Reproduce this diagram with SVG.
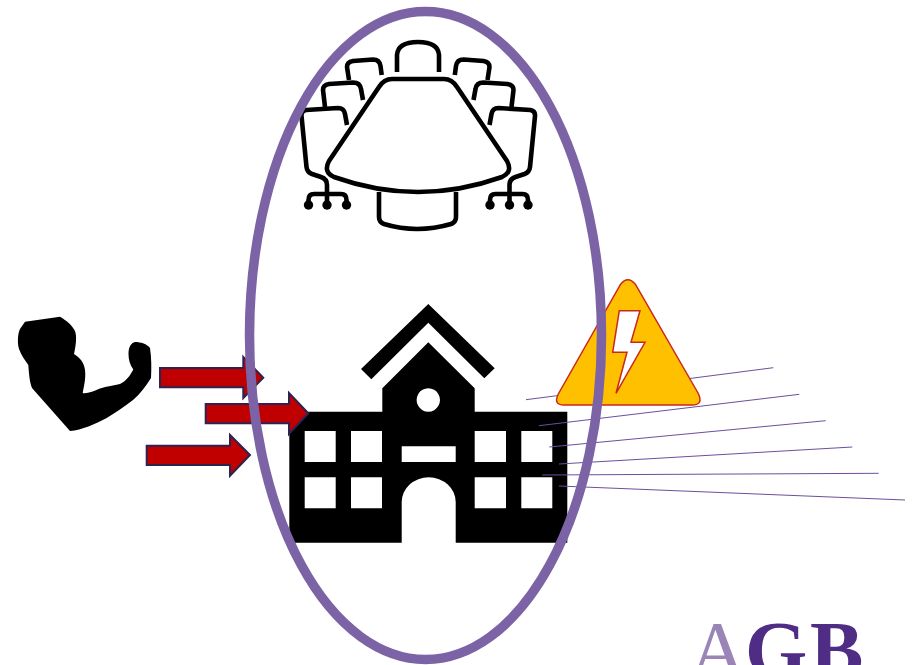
<svg xmlns="http://www.w3.org/2000/svg" width="915" height="665" viewBox="0 0 915 665">
<style>
.o{fill:none;stroke:#000;stroke-width:4.600;stroke-linecap:butt;stroke-linejoin:round}
.a{fill:#c00000;stroke:#2e2350;stroke-width:2}
.l{stroke:#6b4f9e;stroke-width:1;fill:none}
.k{fill:#000}
</style>
<defs>
<g id="side">
<path class="o" d="M381.700 75 L380.500 66 Q379.500 59.500 373 59.500 L353 61 Q347 62 347 67 L349 80"/>
<path class="o" d="M363 100 L361 89 Q360 82.500 353 82.500 L329 84 Q323 85 323 90 L325 107"/>
<path class="o" d="M347 125 L345 114 Q344 108 338 108 L306 110 Q301 111 301.500 116 L306.500 167 Q307 172 312 174 L321 177 Q327 179 327 185 V205"/>
<path class="o" d="M308.500 205 V200 Q308.500 194 314 194 H341 Q346.500 194 346.500 200 V205"/>
<circle class="k" cx="308.500" cy="205" r="4.700"/><circle class="k" cx="327" cy="205" r="4.700"/><circle class="k" cx="346.500" cy="205" r="4.700"/>
</g>
</defs>
<rect width="915" height="665" fill="#fff"/>
<g id="boardroom">
<path class="o" d="M392 79 H444 Q452 79 457 87 L507 161 Q513 172 502 177 Q460 192 418 192 Q376 192 334 177 Q323 172 329 161 L379 87 Q384 79 392 79Z"/>
<path class="o" d="M379 192 V217 Q379 222 384 224 Q417 234 451 224 Q456 222 456 217 V192"/>
<path class="o" d="M397 72 V55 Q398 42 418 42 Q438 42 439 55 V72"/>
<use href="#side"/>
<use href="#side" transform="translate(836.500 0) scale(-1 1)"/>
</g>
<g id="bicep">
<path class="k" d="M25 321.700 L60 316.700 C67 321 72 325 75 331 C77 337 76 345 74 354 C80 358 84 362 85 370 C86 378 84 386 82.700 393 C87 394 94 391 100 388.500 C107 386 114 385.500 120 384 C126 381 130 376 133.300 369.500 C130 365 128.500 360 128.500 354 C128.500 347 131 343 135 342 C141 342 147 344 150 348 C151.500 358 151.500 368 151 378 C146 386 140 394 133 400 C124 407 115 413 106.700 418 C95 424 82 430 70 431 L32 388 C29.500 382 29 373 28.300 365 C25 360 21 355 19 349 C17 342 18 333 20 329 Z"/>
</g>
<g id="school">
<path class="k" fill-rule="evenodd" d="M289.300 411.700 H382.300 V388.300 L428.300 342.300 L474.700 388.300 V411.700 H567.300 V542.700 H455.700 V502 A27 24.700 0 0 0 401.700 502 V542.700 H289.300 Z M304.700 431 V462 H335.700 V431 Z M351 431 V462 H382 V431 Z M474.700 431 V462 H506 V431 Z M521.300 431 V462 H552.300 V431 Z M304.700 477.300 V508.300 H335.700 V477.300 Z M351 477.300 V508.300 H382 V477.300 Z M474.700 477.300 V508.300 H506 V477.300 Z M521.300 477.300 V508.300 H552.300 V477.300 Z M401.700 446.300 V462 H455.700 V446.300 Z M428.300 388.300 A11.700 11.700 0 1 0 428.301 388.300 Z"/>
<path class="k" d="M428.300 304 L494.700 368.300 L484.300 378.300 L428.300 322.700 L371.300 379.300 L361 369 Z"/>
</g>
<g id="connectors">
<path class="l" d="M526 399.700 L773.300 367.700"/>
<path class="l" d="M539 425.700 L799.300 394.300"/>
<path class="l" d="M549.300 447 L825.700 420.700"/>
<path class="l" d="M559 464 L852.300 447"/>
<path class="l" d="M542.300 475 L878.700 473.300"/>
<path class="l" d="M559 486 L905 500"/>
</g>
<g id="warning">
<path d="M620.500 284.500 Q627.700 275 635.500 284.500 L698 393 Q704 405 692 405 H564 Q553 405 558.300 394 Z" fill="#ffc000" stroke="#c9281e" stroke-width="1.500"/>
<path d="M619.300 310.700 H640 L631 342.300 H645 L616 393.300 L627 352.300 H612.700 Z" fill="#fff" stroke="#c9281e" stroke-width="1.500"/>
</g>
<g id="arrows">
<path class="a" d="M160 368 H243.300 V357 L263.300 377.700 L243.300 398 V387.300 H160 Z"/>
<path class="a" d="M205.700 404 H289 V393 L308.300 413.300 L289 434 V423.300 H205.700 Z"/>
<path class="a" d="M146.700 445.700 H230 V435 L250 455 L230 475.700 V465 H146.700 Z"/>
</g>
<g id="oval">
<ellipse cx="425.500" cy="335.500" rx="176" ry="324" fill="none" stroke="#7c63a6" stroke-width="9.500"/>
</g>
<g id="logo">
<text y="677" font-family="'Liberation Serif',serif" font-size="80"><tspan x="689" fill="#9b85b8">A</tspan><tspan x="745" font-weight="bold" fill="#4f2d84">G</tspan><tspan x="810" font-weight="bold" fill="#4f2d84">B</tspan></text>
</g>
</svg>
